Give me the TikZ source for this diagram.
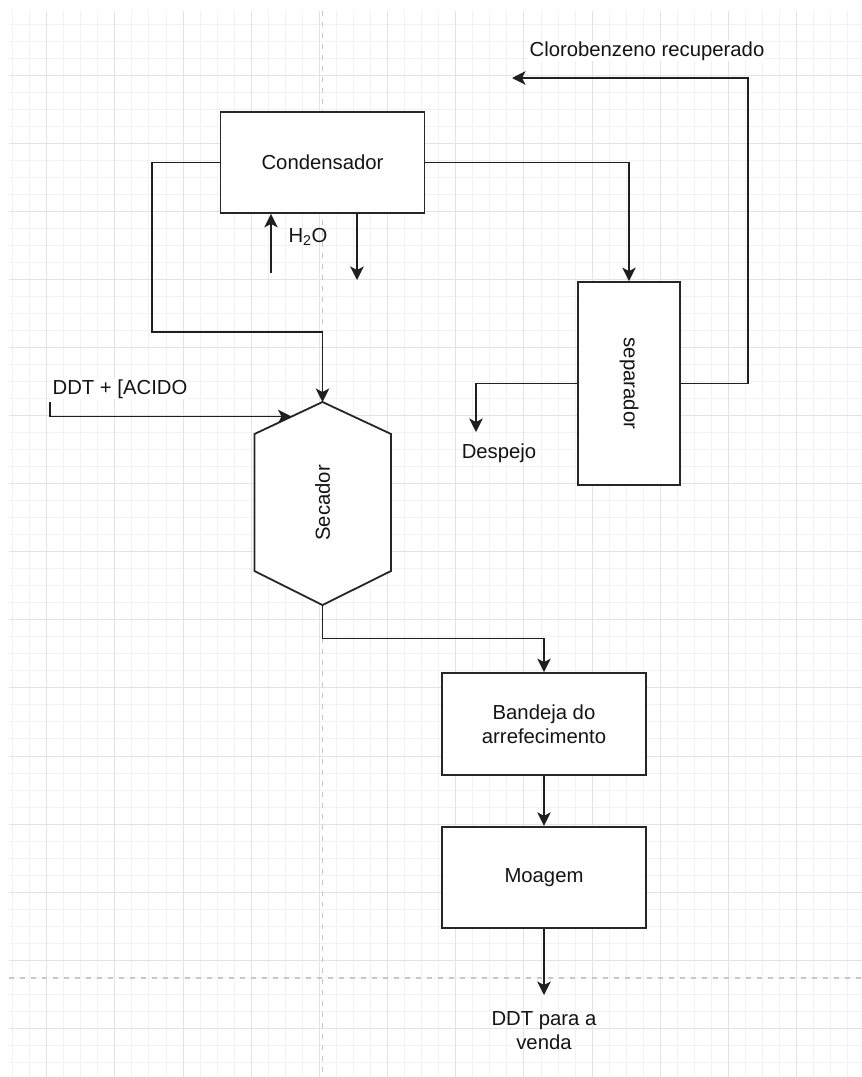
\documentclass[tikz,border=0pt]{standalone}
\usepackage{fontspec}
\setmainfont{Liberation Sans}
\usetikzlibrary{arrows.meta}
\tikzset{
  minorgrid/.style={draw=black!5, line width=1pt},
  majorgrid/.style={draw=black!11, line width=1pt},
  pagebreak/.style={draw=black!22, line width=1.2pt, dash pattern=on 5pt off 6pt},
  box/.style={draw=black!85, line width=1.8pt, fill=white},
  txt/.style={font=\fontsize{20.3}{23.8}\selectfont, text=black!92, align=center, inner sep=1pt},
  lab/.style={txt, fill=white},
  flow/.style={draw=black!88, line width=1.7pt, -{Stealth[length=13.5pt,width=13.5pt,inset=3.5pt]}},
}
\begin{document}
\begin{tikzpicture}[x=1pt,y=-1pt]
\useasboundingbox (0,0) rectangle (862,1077);
\fill[white] (0,0) rectangle (862,1077);
% grid
\foreach \i in {0,...,49} \draw[minorgrid] ({12.6+\i*17.045},11) -- ({12.6+\i*17.045},1077);
\foreach \j in {0,...,61} \draw[minorgrid] (9,{24.46+\j*17.0125}) -- (862,{24.46+\j*17.0125});
\foreach \k in {0,...,11} \draw[majorgrid] ({46.7+\k*68.18},11) -- ({46.7+\k*68.18},1077);
\foreach \k in {0,...,14} \draw[majorgrid] (9,{75.5+\k*68.05}) -- (862,{75.5+\k*68.05});
\draw[pagebreak] (322.5,11) -- (322.5,1077);
\draw[pagebreak] (9,978) -- (862,978);

% units
\node[box, txt, minimum width=204pt, minimum height=101pt] (cond) at (322.5,162.5) {Condensador};
\node[box, minimum width=102pt, minimum height=203pt] (sep) at (629,383.5) {};
\node[txt, rotate=-90] (septxt) at (sep.center) {separador};
\coordinate (secT) at (322.5,402);
\coordinate (secB) at (322.5,605);
\draw[box] (secT) -- (391,434) -- (391,571) -- (secB) -- (254.5,571) -- (254.5,434) -- cycle;
\node[txt, rotate=90] (sec) at (322.5,503) {Secador};
\node[box, txt, minimum width=204pt, minimum height=102pt] (band) at (544,724) {Bandeja do\\arrefecimento};
\node[box, txt, minimum width=204pt, minimum height=101.5pt] (moag) at (544,877.5) {Moagem};

% free ends
\coordinate (h2oin) at (271,273);
\coordinate (h2oout) at (357,280);
\coordinate (clor) at (512,78);
\coordinate (desp) at (476,432);
\coordinate (ddtstart) at (50,402);
\coordinate (ddtend) at (291.5,416.5);
\coordinate (venda) at (544,995);

% connectors
\draw[flow] (cond.west) -| (152,332) -| (secT);
\draw[flow] (cond.east) -| (sep.north);
\draw[flow] (h2oin) -- (h2oin |- cond.south);
\draw[flow] (h2oout |- cond.south) -- (h2oout);
\draw[flow] (sep.east) -| (748,78) -- (clor);
\draw[flow] (sep.west) -| (desp);
\draw[flow] (ddtstart) |- (ddtend);
\draw[flow] (secB) -- ++(0,33.5) -| (band.north);
\draw[flow] (band.south) -- (moag.north);
\draw[flow] (moag.south) -- (venda);

% labels
\node[txt] (h2o) at (308,237) {H\textsubscript{2}O};
\node[lab] (clortxt) at (647,51) {Clorobenzeno recuperado};
\node[txt] (desptxt) at (499,453) {Despejo};
\node[lab] (ddttxt) at (120,389) {DDT + [ACIDO};
\node[txt] (vendatxt) at (544,1031) {DDT para a\\venda};
\end{tikzpicture}
\end{document}
